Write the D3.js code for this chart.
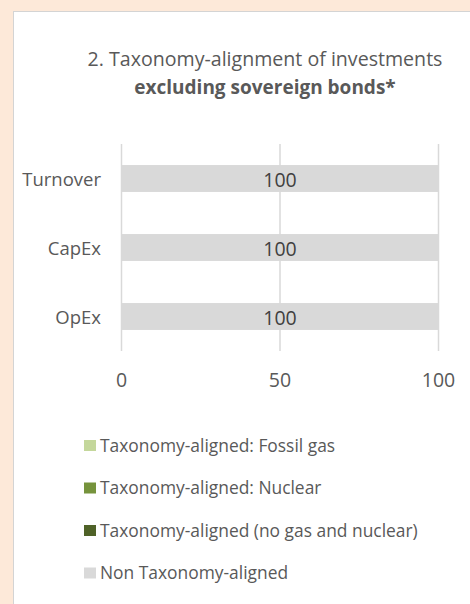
<!DOCTYPE html>
<html>
<head>
<meta charset="utf-8">
<script src="https://cdn.jsdelivr.net/npm/d3@7"></script>
<style>
  body { margin: 0; background: #fde9d9; }
  svg { display: block; font-family: "Open Sans", "Noto Sans", sans-serif; }
</style>
</head>
<body>
<script>
// chart data
var categories = ["Turnover", "CapEx", "OpEx"];
var fossilGas = [0, 0, 0];
var nuclear = [0, 0, 0];
var alignedOther = [0, 0, 0];
var nonAligned = [100, 100, 100];
var xTicks = [0, 50, 100];
var seriesNames = ["Taxonomy-aligned: Fossil gas", "Taxonomy-aligned: Nuclear",
  "Taxonomy-aligned (no gas and nuclear)", "Non Taxonomy-aligned"];
var seriesColors = ["#c4d79b", "#76933c", "#4f6228", "#d9d9d9"];

var width = 470, height = 604;
var textColor = "#595959";

var svg = d3.select("body").append("svg")
  .attr("width", width)
  .attr("height", height);

// white chart panel
svg.append("rect")
  .attr("x", 13.5).attr("y", 11.5)
  .attr("width", 480).attr("height", 620)
  .attr("fill", "#fff")
  .attr("stroke", "#d4d4d4");

// title
var title = svg.append("text")
  .attr("text-anchor", "middle")
  .attr("fill", textColor);
title.append("tspan").attr("x", 265).attr("y", 65.5)
  .style("font-size", "19.6px")
  .text("2. Taxonomy-alignment of investments");
title.append("tspan").attr("x", 265).attr("y", 93.5)
  .style("font-size", "19px")
  .style("font-weight", "bold")
  .text("excluding sovereign bonds*");

var x = d3.scaleLinear().domain([0, 100]).range([121.5, 438.5]);
var y = d3.scaleBand().domain(categories).range([144, 351])
  .paddingInner(0.61).paddingOuter(0.305);

// gridlines
svg.append("g").selectAll("line")
  .data(xTicks)
  .enter().append("line")
  .attr("x1", d => x(d)).attr("x2", d => x(d))
  .attr("y1", 144).attr("y2", 351)
  .attr("stroke", "#d9d9d9")
  .attr("stroke-width", 1.5);

// stacked bars
var rows = categories.map((c, i) => ({
  cat: c,
  vals: [fossilGas[i], nuclear[i], alignedOther[i], nonAligned[i]]
}));
rows.forEach(r => {
  var acc = 0;
  r.vals.forEach((v, k) => {
    if (v > 0) {
      svg.append("rect")
        .attr("x", x(acc))
        .attr("y", y(r.cat))
        .attr("width", x(acc + v) - x(acc))
        .attr("height", y.bandwidth())
        .attr("fill", seriesColors[k]);
      svg.append("text")
        .attr("x", x(acc + v / 2))
        .attr("y", y(r.cat) + y.bandwidth() / 2 + 8.5)
        .attr("text-anchor", "middle")
        .attr("fill", "#404040")
        .style("font-size", "19.5px")
        .text(v);
    }
    acc += v;
  });
});

// y axis labels
svg.append("g").selectAll("text")
  .data(categories)
  .enter().append("text")
  .attr("x", 101)
  .attr("y", d => y(d) + y.bandwidth() / 2 + 7)
  .attr("text-anchor", "end")
  .attr("fill", textColor)
  .style("font-size", "18.5px")
  .text(d => d);

// x axis labels
svg.append("g").selectAll("text")
  .data(xTicks)
  .enter().append("text")
  .attr("x", d => x(d))
  .attr("y", 387)
  .attr("text-anchor", "middle")
  .attr("fill", textColor)
  .style("font-size", "19.5px")
  .text(d => d);

// legend
var legend = svg.append("g").selectAll("g")
  .data(seriesNames)
  .enter().append("g")
  .attr("transform", (d, i) => "translate(84," + (445.5 + i * 42.5) + ")");
legend.append("rect")
  .attr("x", 0).attr("y", -5.5)
  .attr("width", 12).attr("height", 11)
  .attr("fill", (d, i) => seriesColors[i]);
legend.append("text")
  .attr("x", 16)
  .attr("y", 6)
  .attr("fill", textColor)
  .style("font-size", "17.4px")
  .text(d => d);
</script>
</body>
</html>
